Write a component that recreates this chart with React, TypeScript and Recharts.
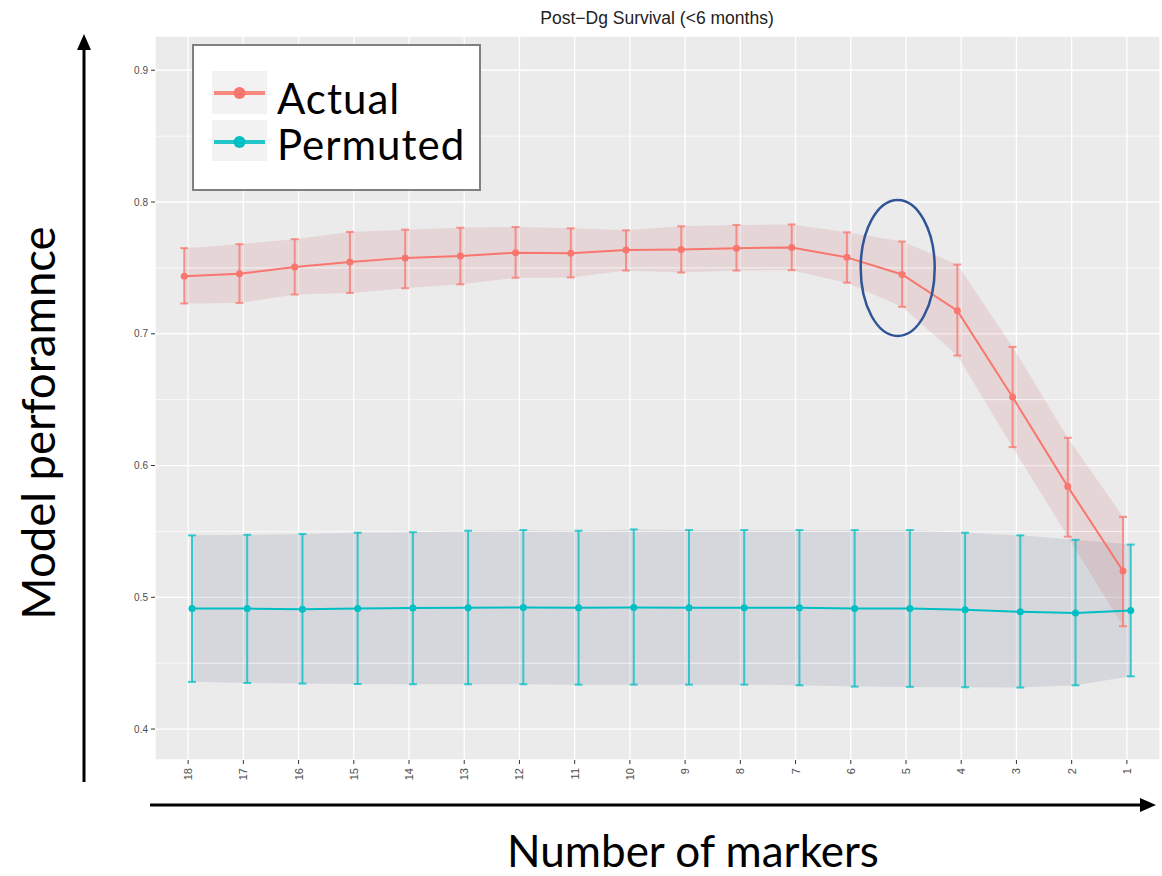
import React from "react";
import {
  ComposedChart,
  Line,
  Area,
  XAxis,
  YAxis,
  CartesianGrid,
  ErrorBar,
  ReferenceLine,
  ReferenceDot,
  Legend,
} from "recharts";

// ---------- data ----------
const markers = ["18", "17", "16", "15", "14", "13", "12", "11", "10", "9", "8", "7", "6", "5", "4", "3", "2", "1"];

const actualMean = [0.7437, 0.7455, 0.7507, 0.7545, 0.7576, 0.759, 0.7615, 0.7612, 0.7635, 0.764, 0.765, 0.7655, 0.758, 0.745, 0.7175, 0.652, 0.584, 0.52];
const actualLow = [0.723, 0.7234, 0.7298, 0.731, 0.7346, 0.7375, 0.7425, 0.7428, 0.748, 0.7465, 0.748, 0.7483, 0.7388, 0.7205, 0.6835, 0.614, 0.546, 0.478];
const actualHigh = [0.765, 0.768, 0.7718, 0.7773, 0.779, 0.7805, 0.781, 0.78, 0.7785, 0.7816, 0.7826, 0.783, 0.777, 0.77, 0.7525, 0.69, 0.621, 0.561];

const permMean = [0.4914, 0.4914, 0.491, 0.4914, 0.4918, 0.492, 0.4923, 0.492, 0.4923, 0.492, 0.492, 0.492, 0.4914, 0.4914, 0.4906, 0.489, 0.488, 0.49];
const permLow = [0.4358, 0.435, 0.4345, 0.4342, 0.434, 0.434, 0.434, 0.4337, 0.4337, 0.4337, 0.4337, 0.4332, 0.4322, 0.432, 0.4317, 0.4315, 0.4332, 0.44];
const permHigh = [0.547, 0.5474, 0.548, 0.549, 0.5494, 0.5505, 0.551, 0.5505, 0.5515, 0.551, 0.551, 0.551, 0.551, 0.551, 0.549, 0.547, 0.5436, 0.54];

const yTicks = [0.4, 0.5, 0.6, 0.7, 0.8, 0.9];
const yMinor = [0.45, 0.55, 0.65, 0.75, 0.85];

const seriesNames = ["Actual", "Permuted"];
const highlight = { marker: "5", value: 0.75 };

const title = "Post\u2212Dg Survival (<6 months)";
const yTitle = "Model perforamnce";
const xTitle = "Number of markers";

// ---------- styling ----------
const RED = "#F8766D";
const TEAL = "#00BFC4";
const DODGE = 0.07;
const TXT = "'Liberation Sans', Arial, sans-serif";
const BIG = "Lato, 'Noto Sans', sans-serif";

const build = (mean: number[], low: number[], high: number[], shift: number) =>
  mean.map((m, i) => ({
    x: i + shift,
    y: m,
    err: [m - low[i], high[i] - m],
    band: [low[i], high[i]],
  }));

const actualData = build(actualMean, actualLow, actualHigh, -DODGE);
const permData = build(permMean, permLow, permHigh, DODGE);
const xTicks = markers.map((_, i) => i);

const XTick = (props: any) => {
  const { x, y, payload } = props;
  return (
    <text
      transform={`translate(${x + 4},${y}) rotate(-90)`}
      textAnchor="end"
      fontSize={11}
      fill="#4d4d4d"
      fontFamily={TXT}
    >
      {markers[payload.value]}
    </text>
  );
};

const LegendBox = (props: any) => {
  const items = (props.payload || []).filter((p: any) => p.type !== "none");
  return (
    <svg width={289} height={147} style={{ display: "block" }}>
      <rect x={1} y={1} width={287} height={145} fill="#fff" stroke="#808080" strokeWidth={2} />
      {items.map((it: any, i: number) => {
        const top = i === 0 ? 27 : 76;
        const cy = top + 22;
        return (
          <g key={i}>
            <rect x={20} y={top} width={55} height={i === 0 ? 43 : 41} fill="#F2F2F2" />
            <line x1={22} x2={73} y1={cy} y2={cy} stroke={it.color} strokeWidth={4} opacity={0.85} />
            <circle cx={47.5} cy={cy} r={6} fill={it.color} />
            <text
              x={85}
              y={i === 0 ? 70 : 116}
              fontSize={42}
              letterSpacing={1}
              fontFamily={BIG}
              fill="#000"
            >
              {it.value}
            </text>
          </g>
        );
      })}
    </svg>
  );
};

const EllipseShape = (props: any) => (
  <ellipse cx={props.cx} cy={props.cy} rx={37} ry={68} fill="none" stroke="#2F5597" strokeWidth={2.5} />
);

export default function App() {
  const hiIdx = markers.indexOf(highlight.marker);
  return (
    <div style={{ position: "absolute", left: 0, top: 0, width: 1162, height: 876, background: "#fff" }}>
      <ComposedChart
        width={1162}
        height={876}
        margin={{ top: 36, right: 2, bottom: 76, left: 80 }}
      >
        <CartesianGrid fill="#EBEBEB" stroke="#ffffff" strokeWidth={1.3} />
        {yMinor.map((v) => (
          <ReferenceLine key={v} y={v} stroke="#ffffff" strokeWidth={0.7} ifOverflow="hidden" />
        ))}
        <XAxis
          type="number"
          dataKey="x"
          domain={[-0.6, 17.6]}
          ticks={xTicks}
          interval={0}
          allowDataOverflow
          axisLine={false}
          tickLine={{ stroke: "#333" }}
          tickSize={4}
          tickMargin={4}
          height={40}
          tick={<XTick />}
        />
        <YAxis
          type="number"
          domain={[0.3765, 0.926]}
          ticks={yTicks}
          allowDataOverflow
          axisLine={false}
          tickLine={{ stroke: "#333" }}
          tickSize={4}
          tickMargin={3}
          width={75}
          tickFormatter={(v: number) => v.toFixed(1)}
          tick={{ fontSize: 10, fill: "#4d4d4d", fontFamily: TXT }}
        />
        <Area
          data={permData}
          dataKey="band"
          type="linear"
          stroke="none"
          fill="rgb(108,115,142)"
          fillOpacity={0.16}
          isAnimationActive={false}
          legendType="none"
          activeDot={false}
        />
        <Area
          data={actualData}
          dataKey="band"
          type="linear"
          stroke="none"
          fill="rgb(195,88,95)"
          fillOpacity={0.15}
          isAnimationActive={false}
          legendType="none"
          activeDot={false}
        />
        <Line
          data={actualData}
          dataKey="y"
          name={seriesNames[0]}
          stroke={RED}
          strokeWidth={2}
          type="linear"
          dot={{ r: 3.5, fill: RED, stroke: RED, strokeWidth: 0 }}
          activeDot={false}
          isAnimationActive={false}
        >
          <ErrorBar dataKey="err" direction="y" width={4} stroke={RED} strokeWidth={2} strokeOpacity={0.75} />
        </Line>
        <Line
          data={permData}
          dataKey="y"
          name={seriesNames[1]}
          stroke={TEAL}
          strokeWidth={2}
          type="linear"
          dot={{ r: 3.5, fill: TEAL, stroke: TEAL, strokeWidth: 0 }}
          activeDot={false}
          isAnimationActive={false}
        >
          <ErrorBar dataKey="err" direction="y" width={4} stroke={TEAL} strokeWidth={2} strokeOpacity={0.75} />
        </Line>
        <ReferenceDot
          x={hiIdx - 0.15}
          y={highlight.value}
          r={1}
          shape={<EllipseShape />}
          ifOverflow="visible"
        />
        <Legend
          layout="vertical"
          align="center"
          verticalAlign="middle"
          content={<LegendBox />}
          wrapperStyle={{ position: "absolute", left: 192, top: 44, width: 289, height: 147 }}
        />
      </ComposedChart>
      <svg
        width={1162}
        height={876}
        style={{ position: "absolute", left: 0, top: 0, pointerEvents: "none" }}
      >
        <text x={657} y={24} textAnchor="middle" fontSize={17.5} fontFamily={TXT} fill="#222">
          {title}
        </text>
        <text
          transform="translate(55,423) rotate(-90)"
          textAnchor="middle"
          fontSize={45.5}
          fontFamily={BIG}
          fill="#000"
        >
          {yTitle}
        </text>
        <text x={693} y={867} textAnchor="middle" fontSize={44} fontFamily={BIG} fill="#000">
          {xTitle}
        </text>
        {/* vertical arrow */}
        <line x1={84} y1={782} x2={84} y2={48} stroke="#000" strokeWidth={3} />
        <polygon points="77,50 84,34 91,50" fill="#000" />
        {/* horizontal arrow */}
        <line x1={150} y1={805} x2={1142} y2={805} stroke="#000" strokeWidth={3} />
        <polygon points="1140,798 1156,805 1140,812" fill="#000" />
      </svg>
    </div>
  );
}
